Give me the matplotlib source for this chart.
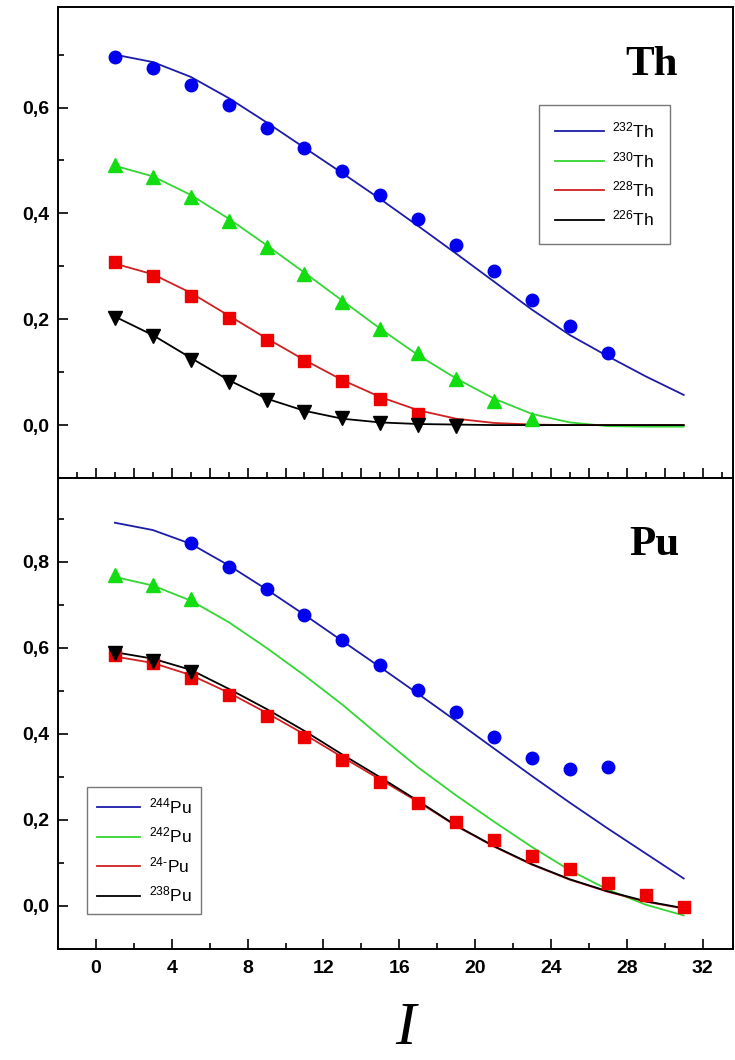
import matplotlib
matplotlib.use("Agg")
import matplotlib.pyplot as plt
from matplotlib.ticker import MultipleLocator, FuncFormatter

# curve grid (odd I values)
line_x = [1, 3, 5, 7, 9, 11, 13, 15, 17, 19, 21, 23, 25, 27, 29, 31]

# Th panel: theoretical curves
th232_line = [0.700, 0.686, 0.658, 0.618, 0.572, 0.524, 0.476, 0.427, 0.376, 0.324, 0.271, 0.218, 0.170, 0.130, 0.092, 0.057]
th230_line = [0.490, 0.470, 0.435, 0.390, 0.340, 0.288, 0.235, 0.182, 0.132, 0.088, 0.050, 0.021, 0.005, -0.002, -0.003, -0.003]
th228_line = [0.305, 0.285, 0.250, 0.207, 0.164, 0.123, 0.085, 0.053, 0.028, 0.012, 0.004, 0.001, 0.0, 0.0, 0.0, 0.0]
th226_line = [0.205, 0.170, 0.127, 0.085, 0.050, 0.027, 0.012, 0.005, 0.002, 0.001, 0.0, 0.0, 0.0, 0.0, 0.0, 0.0]

# Th panel: data points
th232_x = [1, 3, 5, 7, 9, 11, 13, 15, 17, 19, 21, 23, 25, 27]
th232_y = [0.696, 0.674, 0.643, 0.604, 0.562, 0.523, 0.480, 0.435, 0.389, 0.340, 0.291, 0.237, 0.187, 0.136]
th230_x = [1, 3, 5, 7, 9, 11, 13, 15, 17, 19, 21, 23]
th230_y = [0.491, 0.468, 0.431, 0.386, 0.336, 0.286, 0.233, 0.182, 0.136, 0.088, 0.046, 0.011]
th228_x = [1, 3, 5, 7, 9, 11, 13, 15, 17]
th228_y = [0.308, 0.281, 0.243, 0.203, 0.160, 0.121, 0.084, 0.050, 0.020]
th226_x = [1, 3, 5, 7, 9, 11, 13, 15, 17, 19]
th226_y = [0.203, 0.168, 0.123, 0.082, 0.048, 0.025, 0.013, 0.003, 0.000, -0.002]

# Pu panel: theoretical curves
pu244_line = [0.891, 0.874, 0.842, 0.792, 0.736, 0.677, 0.616, 0.555, 0.493, 0.430, 0.366, 0.302, 0.240, 0.180, 0.122, 0.064]
pu242_line = [0.765, 0.745, 0.710, 0.660, 0.600, 0.536, 0.468, 0.394, 0.322, 0.257, 0.196, 0.137, 0.083, 0.038, 0.003, -0.022]
pu240_line = [0.580, 0.565, 0.537, 0.496, 0.449, 0.399, 0.346, 0.294, 0.242, 0.186, 0.138, 0.096, 0.061, 0.033, 0.010, -0.006]
pu238_line = [0.590, 0.575, 0.549, 0.505, 0.458, 0.407, 0.352, 0.299, 0.244, 0.187, 0.139, 0.097, 0.062, 0.034, 0.011, -0.005]

# Pu panel: data points
pu244_x = [5, 7, 9, 11, 13, 15, 17, 19, 21, 23, 25, 27]
pu244_y = [0.843, 0.788, 0.736, 0.676, 0.618, 0.560, 0.503, 0.450, 0.393, 0.343, 0.318, 0.322]
pu242_x = [1, 3, 5]
pu242_y = [0.769, 0.746, 0.713]
pu240_x = [1, 3, 5, 7, 9, 11, 13, 15, 17, 19, 21, 23, 25, 27, 29, 31]
pu240_y = [0.583, 0.564, 0.531, 0.490, 0.441, 0.392, 0.340, 0.288, 0.240, 0.195, 0.153, 0.116, 0.085, 0.054, 0.025, -0.002]
pu238_x = [1, 3, 5]
pu238_y = [0.588, 0.570, 0.544]

th_labels = [r"$^{232}$Th", r"$^{230}$Th", r"$^{228}$Th", r"$^{226}$Th"]
pu_labels = [r"$^{244}$Pu", r"$^{242}$Pu", r"$^{24\mathrm{‐}}$Pu", r"$^{238}$Pu"]

line_colors = ["#1c1ca8", "#33d633", "#d02020", "#000000"]
mark_colors = ["#0000ee", "#11dd11", "#ee0000", "#000000"]
markers = ["o", "^", "s", "v"]
msizes = [9, 10, 8, 10]

plt.rcParams["mathtext.fontset"] = "custom"
plt.rcParams["mathtext.rm"] = "Liberation Sans"
plt.rcParams["mathtext.it"] = "Liberation Sans"
plt.rcParams["font.family"] = "Liberation Sans"

fig = plt.figure(figsize=(7.35, 10.6), dpi=100)
ax1 = fig.add_axes([58 / 735, 1 - 478 / 1060, 675 / 735, 471 / 1060])
ax2 = fig.add_axes([58 / 735, 1 - 949 / 1060, 675 / 735, 471 / 1060])

comma = FuncFormatter(lambda v, p: f"{v:.1f}".replace(".", ","))

th_lines = [th232_line, th230_line, th228_line, th226_line]
th_pts = [(th232_x, th232_y), (th230_x, th230_y), (th228_x, th228_y), (th226_x, th226_y)]
for i in range(4):
    ax1.plot(line_x, th_lines[i], color=line_colors[i], lw=1.3, label=th_labels[i], zorder=2)
for i in range(4):
    ax1.plot(th_pts[i][0], th_pts[i][1], ls="none", marker=markers[i], ms=msizes[i],
             color=mark_colors[i], mec=mark_colors[i], zorder=3)

pu_lines = [pu244_line, pu242_line, pu240_line, pu238_line]
pu_pts = [(pu244_x, pu244_y), (pu242_x, pu242_y), (pu240_x, pu240_y), (pu238_x, pu238_y)]
for i in range(4):
    ax2.plot(line_x, pu_lines[i], color=line_colors[i], lw=1.3, label=pu_labels[i], zorder=2)
for i in range(4):
    ax2.plot(pu_pts[i][0], pu_pts[i][1], ls="none", marker=markers[i], ms=msizes[i],
             color=mark_colors[i], mec=mark_colors[i], zorder=3)

for ax in (ax1, ax2):
    ax.set_xlim(-2, 33.6)
    ax.yaxis.set_major_locator(MultipleLocator(0.2))
    ax.yaxis.set_minor_locator(MultipleLocator(0.1))
    ax.yaxis.set_major_formatter(comma)
    ax.tick_params(which="both", direction="in", top=False, right=False, width=1.2)
    ax.tick_params(which="major", length=7, labelsize=14, pad=6)
    ax.tick_params(which="minor", length=4)
    for s in ax.spines.values():
        s.set_linewidth(1.4)

ax1.set_ylim(-0.1, 0.79)
ax1.xaxis.set_major_locator(MultipleLocator(2))
ax1.xaxis.set_minor_locator(MultipleLocator(1))
ax1.tick_params(axis="x", labelbottom=False)

ax2.set_ylim(-0.1, 0.995)
ax2.xaxis.set_major_locator(MultipleLocator(4))
ax2.xaxis.set_minor_locator(MultipleLocator(2))
ax2.tick_params(axis="x", pad=8)
for lab in ax2.get_xticklabels() + ax2.get_yticklabels() + ax1.get_yticklabels():
    lab.set_fontweight("bold")

ax1.text(0.88, 0.877, "Th", transform=ax1.transAxes, ha="center", va="center",
         fontsize=31, fontweight="bold", family="Liberation Serif")
ax2.text(0.884, 0.858, "Pu", transform=ax2.transAxes, ha="center", va="center",
         fontsize=31, fontweight="bold", family="Liberation Serif")

leg_kw = dict(fontsize=12.5, frameon=True, fancybox=False, edgecolor="#555555",
              handletextpad=0.5, labelspacing=0.55, borderaxespad=0)
l1 = ax1.legend(loc="upper left", bbox_to_anchor=(0.713, 0.792),
                handlelength=2.8, borderpad=0.9, **leg_kw)
l2 = ax2.legend(loc="upper left", bbox_to_anchor=(0.043, 0.344),
                handlelength=2.5, borderpad=0.55, **leg_kw)
for l in (l1, l2):
    l.get_frame().set_linewidth(1.0)

fig.text(405 / 735, 1 - 1044 / 1060, "I", ha="center", va="baseline",
         fontsize=44, style="italic", family="Liberation Serif")

fig.savefig("out.png", dpi=100)
